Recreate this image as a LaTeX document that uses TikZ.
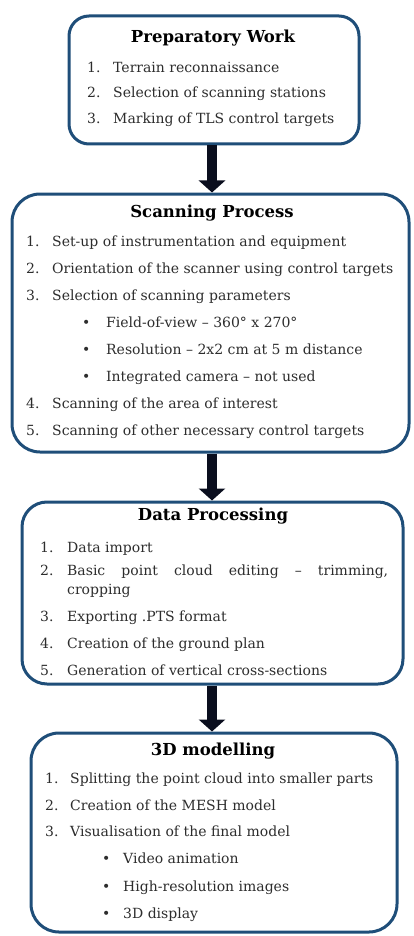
\documentclass[tikz,border=0pt]{standalone}
\usepackage{fontspec}
\setmainfont{DejaVu Serif}
\usetikzlibrary{arrows.meta}
\definecolor{boxblue}{RGB}{31,78,121}
\definecolor{txt}{RGB}{45,45,45}
\definecolor{arrowc}{RGB}{10,14,30}
\begin{document}
\begin{tikzpicture}[x=1pt,y=-1pt,
  stage/.style={draw=boxblue, line width=3pt, rounded corners=#1, fill=white, inner sep=0pt},
  ttl/.style={font=\fontsize{16.5}{18}\selectfont\bfseries, text=black, anchor=mid, inner sep=0pt, yshift=-3pt},
  itm/.style={font=\fontsize{14}{16}\selectfont, text=txt, anchor=mid west, inner sep=0pt, yshift=-3pt},
  flow/.style={draw=arrowc, line width=10pt, -{Triangle[width=26pt,length=12pt]}}
]
\useasboundingbox (0,0) rectangle (414,936);
% boxes
\node[stage=20pt, minimum width=290pt, minimum height=128pt] (b1) at (214,80) {};
\node[stage=28pt, minimum width=397pt, minimum height=258pt] (b2) at (210.5,323) {};
\node[stage=25pt, minimum width=381pt, minimum height=182pt] (b3) at (212.5,593) {};
\node[stage=28pt, minimum width=366pt, minimum height=199pt] (b4) at (214,832.5) {};
% arrows
\draw[flow] (b1.south -| 212,0) -- (b2.north -| 212,0);
\draw[flow] (b2.south -| 212,0) -- (b3.north -| 212,0);
\draw[flow] (b3.south -| 212,0) -- (b4.north -| 212,0);
% box 1
\node[ttl] (t1) at (213,37) {Preparatory Work};
\node[itm] (n1a) at (87,67) {1.};  \node[itm] (i1a) at (113,67) {Terrain reconnaissance};
\node[itm] (n1b) at (87,92) {2.};  \node[itm] (i1b) at (113,92) {Selection of scanning stations};
\node[itm] (n1c) at (87,118) {3.}; \node[itm] (i1c) at (113,118) {Marking of TLS control targets};
% box 2
\node[ttl] (t2) at (212,212) {Scanning Process};
\node[itm] (n2a) at (26,241) {1.}; \node[itm] (i2a) at (52,241) {Set-up of instrumentation and equipment};
\node[itm] (n2b) at (26,268) {2.}; \node[itm] (i2b) at (52,268) {Orientation of the scanner using control targets};
\node[itm] (n2c) at (26,295) {3.}; \node[itm] (i2c) at (52,295) {Selection of scanning parameters};
\node[itm] (u2a) at (82,322) {•}; \node[itm] (j2a) at (106,322) {Field-of-view – 360° x 270°};
\node[itm] (u2b) at (82,349) {•}; \node[itm] (j2b) at (106,349) {Resolution – 2x2 cm at 5 m distance};
\node[itm] (u2c) at (82,376) {•}; \node[itm] (j2c) at (106,376) {Integrated camera – not used};
\node[itm] (n2d) at (26,403) {4.}; \node[itm] (i2d) at (52,403) {Scanning of the area of interest};
\node[itm] (n2e) at (26,430) {5.}; \node[itm] (i2e) at (52,430) {Scanning of other necessary control targets};
% box 3
\node[ttl] (t3) at (213,515) {Data Processing};
\node[itm] (n3a) at (40,547) {1.}; \node[itm] (i3a) at (67,547) {Data import};
\node[itm] (n3b) at (40,570) {2.}; \node[itm] (i3b) at (67,570) {\makebox[321pt][s]{Basic point cloud editing – trimming,}};
\node[itm] (i3b2) at (67,589) {cropping};
\node[itm] (n3c) at (40,616) {3.}; \node[itm] (i3c) at (67,616) {Exporting .PTS format};
\node[itm] (n3d) at (40,643) {4.}; \node[itm] (i3d) at (67,643) {Creation of the ground plan};
\node[itm] (n3e) at (40,670) {5.}; \node[itm] (i3e) at (67,670) {Generation of vertical cross-sections};
% box 4
\node[ttl] (t4) at (213,750) {3D modelling};
\node[itm] (n4a) at (45,778) {1.}; \node[itm] (i4a) at (70,778) {Splitting the point cloud into smaller parts};
\node[itm] (n4b) at (45,805) {2.}; \node[itm] (i4b) at (70,805) {Creation of the MESH model};
\node[itm] (n4c) at (45,831) {3.}; \node[itm] (i4c) at (70,831) {Visualisation of the final model};
\node[itm] (u4a) at (102,858) {•}; \node[itm] (j4a) at (123,858) {Video animation};
\node[itm] (u4b) at (102,886) {•}; \node[itm] (j4b) at (123,886) {High-resolution images};
\node[itm] (u4c) at (102,913) {•}; \node[itm] (j4c) at (123,913) {3D display};
\end{tikzpicture}
\end{document}
